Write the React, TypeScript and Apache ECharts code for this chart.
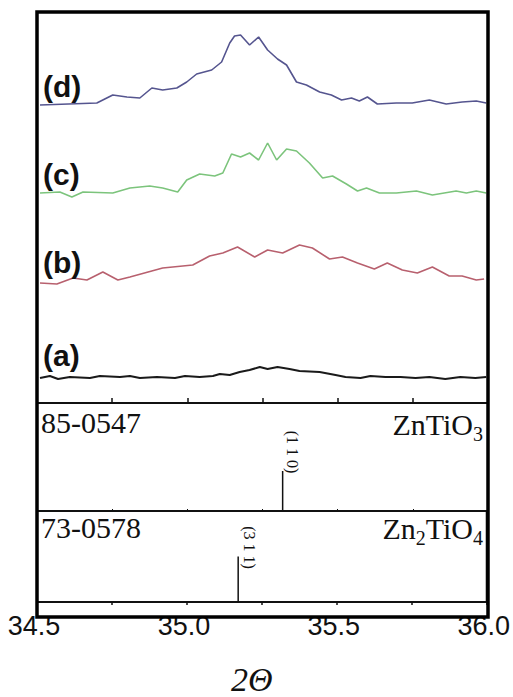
import React, { useEffect, useRef } from "react";
import * as echarts from "echarts";

// 2θ values (degrees) and plotted intensities (a.u., curves stacked with offsets)
const dX = [34.51, 34.699, 34.752, 34.799, 34.842, 34.882, 34.918, 34.965, 34.998, 35.031, 35.081, 35.114, 35.141, 35.157, 35.177, 35.207, 35.237, 35.267, 35.3, 35.33, 35.363, 35.396, 35.44, 35.479, 35.513, 35.546, 35.572, 35.599, 35.632, 35.695, 35.748, 35.805, 35.861, 35.914, 35.961, 35.994];
const dY = [298, 300, 308, 306, 305, 315, 313, 315, 321, 329, 333, 341, 360, 367, 368, 358, 366, 353, 344, 338, 321, 318, 311, 308, 303, 305, 302, 306, 299, 300, 300, 303, 299, 301, 302, 300];

const cX = [34.51, 34.576, 34.616, 34.653, 34.752, 34.809, 34.875, 34.918, 34.968, 34.998, 35.041, 35.091, 35.118, 35.147, 35.177, 35.207, 35.237, 35.267, 35.297, 35.33, 35.363, 35.406, 35.45, 35.483, 35.529, 35.566, 35.596, 35.639, 35.695, 35.762, 35.815, 35.894, 35.928, 35.961, 35.994];
const cY = [210, 211, 206, 211, 210, 215, 217, 215, 211, 223, 229, 227, 230, 249, 246, 250, 243, 260, 243, 254, 252, 240, 225, 227, 219, 212, 215, 210, 210, 212, 208, 212, 210, 212, 210];

const bX = [34.51, 34.566, 34.62, 34.666, 34.719, 34.769, 34.809, 34.918, 35.018, 35.074, 35.118, 35.167, 35.224, 35.267, 35.317, 35.373, 35.416, 35.473, 35.516, 35.566, 35.622, 35.665, 35.715, 35.765, 35.815, 35.871, 35.914, 35.961, 35.987];
const bY = [120, 119, 125, 123, 131, 123, 126, 135, 138, 147, 150, 156, 146, 153, 150, 158, 155, 144, 146, 140, 134, 140, 133, 130, 136, 127, 127, 123, 124];

const aX = [34.51, 34.543, 34.57, 34.609, 34.676, 34.709, 34.776, 34.809, 34.842, 34.899, 34.959, 34.992, 35.041, 35.085, 35.108, 35.141, 35.174, 35.207, 35.241, 35.267, 35.3, 35.34, 35.373, 35.44, 35.493, 35.526, 35.576, 35.609, 35.659, 35.709, 35.759, 35.805, 35.858, 35.908, 35.958, 35.994];
const aY = [25, 27, 24, 26, 25, 27, 26, 27, 25, 26, 25, 27, 26, 27, 29, 28, 31, 33, 36, 34, 36, 34, 32, 31, 28, 26, 25, 27, 26, 26, 25, 26, 24, 26, 25, 26];

const sampleLabels = ["(d)", "(c)", "(b)", "(a)"];
const sampleColors = ["#55558f", "#7cc47c", "#b8606e", "#1a1a1a"];

// Reference patterns (JCPDS)
const ref1Card = "85-0547";
const ref1Peak = 35.317;
const ref1Int = 37;
const ref1Hkl = "(1 1 0)";
const ref2Card = "73-0578";
const ref2Peak = 35.171;
const ref2Int = 50;
const ref2Hkl = "(3 1 1)";

const xTickLabels = ["34.5", "35.0", "35.5", "36.0"];

const zip = (xs: number[], ys: number[]) => xs.map((x, i) => [x, ys[i]]);

export default function App() {
  const ref = useRef<HTMLDivElement>(null);
  useEffect(() => {
    if (!ref.current) return;
    const chart = echarts.init(ref.current, undefined, { renderer: "svg" });
    const L = 37;
    const W = 451;
    const grids = [
      { left: L, width: W, top: 12, height: 391 },
      { left: L, width: W, top: 403, height: 108 },
      { left: L, width: W, top: 511, height: 106 },
    ].map((g) => ({ ...g, show: true, borderColor: "#111", borderWidth: 2, backgroundColor: "transparent" }));

    const xBase = {
      type: "value" as const,
      min: 34.5,
      max: 36,
      interval: 0.25,
      axisLine: { show: false },
      splitLine: { show: false },
    };
    const xAxes = [
      { ...xBase, gridIndex: 0, axisTick: { inside: true, length: 5, lineStyle: { color: "#111", width: 1.5 } }, axisLabel: { show: false } },
      { ...xBase, gridIndex: 1, axisTick: { inside: true, length: 2, lineStyle: { color: "#111" } }, axisLabel: { show: false } },
      {
        ...xBase,
        gridIndex: 2,
        axisTick: { inside: false, length: 3, lineStyle: { color: "#111", width: 1.5 } },
        axisLabel: {
          show: true,
          margin: 10,
          color: "#111",
          fontSize: 27,
          fontFamily: "'Liberation Sans', Arial, sans-serif",
          padding: [0, 6, 0, 0],
          formatter: (v: number) => {
            const s = v.toFixed(1);
            return xTickLabels.includes(s) && Math.abs(v * 2 - Math.round(v * 2)) < 1e-6 ? s : "";
          },
        },
        name: "2Θ",
        nameLocation: "middle" as const,
        nameGap: 60,
        nameTextStyle: { fontSize: 34, fontStyle: "italic", fontFamily: "'Liberation Serif', 'Times New Roman', serif", color: "#111", padding: [0, 20, 0, 0] },
      },
    ];
    const yAxes = [
      { type: "value" as const, gridIndex: 0, min: 0, max: 391, show: false },
      { type: "value" as const, gridIndex: 1, min: 0, max: 100, show: false },
      { type: "value" as const, gridIndex: 2, min: 0, max: 100, show: false },
    ];

    const curves = [zip(dX, dY), zip(cX, cY), zip(bX, bY), zip(aX, aY)];
    const series: any[] = curves.map((data, i) => ({
      type: "line",
      xAxisIndex: 0,
      yAxisIndex: 0,
      data,
      showSymbol: false,
      lineStyle: { color: sampleColors[i], width: i === 3 ? 2 : 1.6 },
      z: 3,
    }));
    series.push({
      type: "line",
      xAxisIndex: 1,
      yAxisIndex: 1,
      data: [[ref1Peak, 0], [ref1Peak, ref1Int]],
      showSymbol: false,
      lineStyle: { color: "#111", width: 1.5 },
    });
    series.push({
      type: "line",
      xAxisIndex: 2,
      yAxisIndex: 2,
      data: [[ref2Peak, 0], [ref2Peak, ref2Int]],
      showSymbol: false,
      lineStyle: { color: "#111", width: 1.5 },
    });

    chart.setOption({
      animation: false,
      backgroundColor: "#fff",
      grid: grids,
      xAxis: xAxes,
      yAxis: yAxes,
      series,
    });

    const p1 = chart.convertToPixel({ gridIndex: 1 }, [ref1Peak, ref1Int]) as number[];
    const p2 = chart.convertToPixel({ gridIndex: 2 }, [ref2Peak, ref2Int]) as number[];
    const yc = curves.map((c) => chart.convertToPixel({ gridIndex: 0 }, c[0]) as number[]);

    const serif = "'Liberation Serif', 'Times New Roman', serif";
    const labelOffsets = [-19, -19, -21, -23];
    const richSub = {
      a: { fontSize: 30, fontFamily: serif, lineHeight: 30, verticalAlign: "bottom" },
      s: { fontSize: 20, fontFamily: serif, lineHeight: 24, verticalAlign: "bottom", padding: [0, 0, -5, 0] },
    };
    const graphic: any[] = [
      { type: "rect", shape: { x: 37, y: 12, width: 451, height: 605 }, style: { fill: "none", stroke: "#000", lineWidth: 3.5 }, z: 100 },
      ...sampleLabels.map((t, i) => ({
        type: "text",
        x: 43,
        y: yc[i][1] + labelOffsets[i],
        style: { text: t, font: "bold 30px 'Liberation Sans', Arial, sans-serif", fill: "#111", verticalAlign: "middle", align: "left" },
        z: 50,
      })),
      { type: "text", x: 41, y: 422, style: { text: ref1Card, font: `30px ${serif}`, fill: "#111", verticalAlign: "middle" }, z: 50 },
      { type: "text", x: 41, y: 527, style: { text: ref2Card, font: `30px ${serif}`, fill: "#111", verticalAlign: "middle" }, z: 50 },
      {
        type: "text",
        x: 483,
        y: 424,
        style: { text: "{a|ZnTiO}{s|3}", align: "right", verticalAlign: "middle", fill: "#111", rich: richSub },
        z: 50,
      },
      {
        type: "text",
        x: 483,
        y: 528,
        style: { text: "{a|Zn}{s|2}{a|TiO}{s|4}", align: "right", verticalAlign: "middle", fill: "#111", rich: richSub },
        z: 50,
      },
      {
        type: "text",
        x: p1[0] + 10,
        y: p1[1] - 19,
        rotation: -Math.PI / 2,
        style: { text: ref1Hkl, font: `16px ${serif}`, fill: "#111", align: "center", verticalAlign: "middle" },
        z: 50,
      },
      {
        type: "text",
        x: p2[0] + 11,
        y: p2[1] - 9,
        rotation: -Math.PI / 2,
        style: { text: ref2Hkl, font: `16px ${serif}`, fill: "#111", align: "center", verticalAlign: "middle" },
        z: 50,
      },
    ];
    chart.setOption({ graphic });

    return () => chart.dispose();
  }, []);
  return <div ref={ref} style={{ position: "absolute", left: 0, top: 0, width: 513, height: 697 }} />;
}
